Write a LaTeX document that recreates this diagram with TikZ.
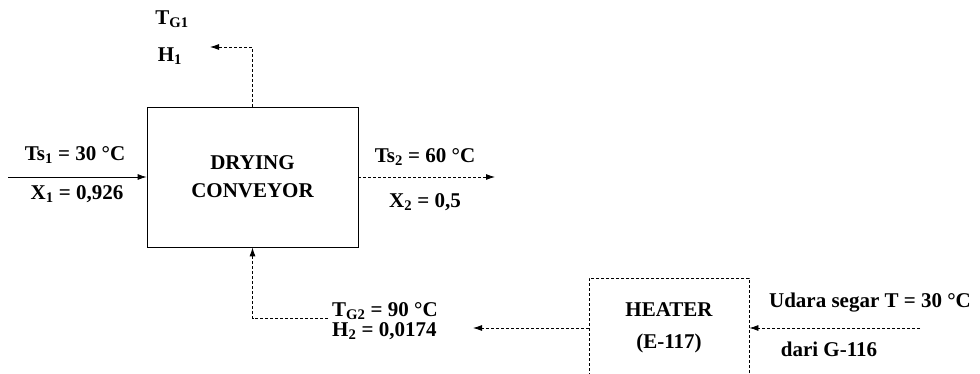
\documentclass[tikz,border=0pt]{standalone}
\usepackage{fontspec}
\setmainfont{Liberation Serif}
\usetikzlibrary{arrows.meta}
\tikzset{
  unit/.style={draw, line width=0.8pt, align=center, inner sep=0pt},
  flow/.style={line width=0.8pt, -{Latex[length=9pt,width=6pt]}},
  dflow/.style={flow, densely dashed},
  lbl/.style={inner sep=0pt, align=center},
  big/.style={font=\fontsize{21}{24}\selectfont\bfseries}
}
\begin{document}
\begin{tikzpicture}[x=1pt,y=-1pt]
\clip (0,0) rectangle (980,374);
\fill[white] (0,0) rectangle (980,374);
% units
\node[unit, big, minimum width=211pt, minimum height=140pt] (dry) at (252.5,177) {DRYING\\[4pt]CONVEYOR};
\node[unit, big, densely dashed, minimum width=160pt, minimum height=100pt] (heat) at (669,328) {HEATER\\[8pt](E-117)};
% free ends
\coordinate (gout) at (210,47);
\coordinate (sin) at (8,177);
\coordinate (sout) at (495,177);
\coordinate (hout) at (473,328);
\coordinate (ain) at (920,328);
% labels
\node[lbl, big] (tg1) at (172,19) {T\textsubscript{G1}};
\node[lbl, big] (h1) at (170,56) {H\textsubscript{1}};
\node[lbl, big] (ts1) at (75,155) {Ts\textsubscript{1} = 30 °C};
\node[lbl, big] (x1) at (77,194) {X\textsubscript{1} = 0,926};
\node[lbl, big] (ts2) at (425,157) {Ts\textsubscript{2} = 60 °C};
\node[lbl, big] (x2) at (425,202) {X\textsubscript{2} = 0,5};
\node[lbl, big, align=left, anchor=west] (tg2) at (332,321) {T\textsubscript{G2} = 90 °C\\[-4pt]H\textsubscript{2} = 0,0174};
\node[lbl, big] (udara) at (870,303) {Udara segar T = 30 °C};
\node[lbl, big] (dari) at (829,349) {dari G-116};
% connectors
\draw[flow] (sin) -- (dry.west);
\draw[dflow] (dry.east) -- (sout);
\draw[dflow] (dry.north) |- (gout);
\draw[dflow] ([xshift=-4pt]tg2.west |- 0,318) -| (dry.south);
\draw[dflow] (heat.west) -- (hout);
\draw[dflow] (ain) -- (heat.east);
\end{tikzpicture}
\end{document}
